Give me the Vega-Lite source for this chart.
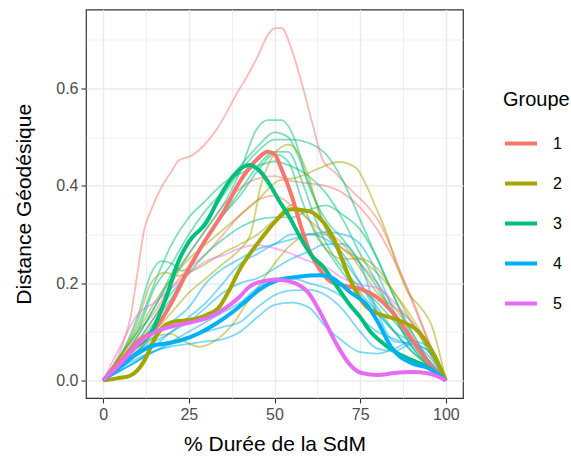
{
  "$schema": "https://vega.github.io/schema/vega-lite/v6.json",
  "autosize": "none",
  "width": 377,
  "height": 388.5,
  "padding": {"left": 86, "top": 9.5, "right": 108, "bottom": 62},
  "background": "white",
  "datasets": {
    "d": [
      {"s":"R1","g":"1","t":"i","x":0,"y":0},{"s":"R1","g":"1","t":"i","x":3,"y":0.03},{"s":"R1","g":"1","t":"i","x":6,"y":0.08},{"s":"R1","g":"1","t":"i","x":8,"y":0.13},{"s":"R1","g":"1","t":"i","x":10,"y":0.22},{"s":"R1","g":"1","t":"i","x":12,"y":0.31},{"s":"R1","g":"1","t":"i","x":14,"y":0.35},{"s":"R1","g":"1","t":"i","x":17,"y":0.397},{"s":"R1","g":"1","t":"i","x":20,"y":0.43},{"s":"R1","g":"1","t":"i","x":22,"y":0.452},{"s":"R1","g":"1","t":"i","x":26,"y":0.463},{"s":"R1","g":"1","t":"i","x":30,"y":0.488},{"s":"R1","g":"1","t":"i","x":33,"y":0.515},{"s":"R1","g":"1","t":"i","x":36,"y":0.55},{"s":"R1","g":"1","t":"i","x":39,"y":0.59},{"s":"R1","g":"1","t":"i","x":42,"y":0.625},{"s":"R1","g":"1","t":"i","x":45.5,"y":0.672},{"s":"R1","g":"1","t":"i","x":48,"y":0.71},{"s":"R1","g":"1","t":"i","x":50,"y":0.724},{"s":"R1","g":"1","t":"i","x":52,"y":0.725},{"s":"R1","g":"1","t":"i","x":55,"y":0.68},{"s":"R1","g":"1","t":"i","x":58,"y":0.61},{"s":"R1","g":"1","t":"i","x":61,"y":0.53},{"s":"R1","g":"1","t":"i","x":64,"y":0.455},{"s":"R1","g":"1","t":"i","x":68,"y":0.425},{"s":"R1","g":"1","t":"i","x":72.5,"y":0.39},{"s":"R1","g":"1","t":"i","x":77.5,"y":0.355},{"s":"R1","g":"1","t":"i","x":81,"y":0.32},{"s":"R1","g":"1","t":"i","x":84,"y":0.273},{"s":"R1","g":"1","t":"i","x":88,"y":0.2},{"s":"R1","g":"1","t":"i","x":92,"y":0.13},{"s":"R1","g":"1","t":"i","x":96,"y":0.06},{"s":"R1","g":"1","t":"i","x":100,"y":0},
      {"s":"R2","g":"1","t":"i","x":0,"y":0},{"s":"R2","g":"1","t":"i","x":5,"y":0.05},{"s":"R2","g":"1","t":"i","x":10,"y":0.1},{"s":"R2","g":"1","t":"i","x":15,"y":0.14},{"s":"R2","g":"1","t":"i","x":20,"y":0.2},{"s":"R2","g":"1","t":"i","x":25,"y":0.26},{"s":"R2","g":"1","t":"i","x":30,"y":0.31},{"s":"R2","g":"1","t":"i","x":35,"y":0.36},{"s":"R2","g":"1","t":"i","x":40,"y":0.395},{"s":"R2","g":"1","t":"i","x":45,"y":0.415},{"s":"R2","g":"1","t":"i","x":50,"y":0.42},{"s":"R2","g":"1","t":"i","x":55,"y":0.41},{"s":"R2","g":"1","t":"i","x":60,"y":0.405},{"s":"R2","g":"1","t":"i","x":65,"y":0.4},{"s":"R2","g":"1","t":"i","x":70,"y":0.385},{"s":"R2","g":"1","t":"i","x":75,"y":0.355},{"s":"R2","g":"1","t":"i","x":80,"y":0.31},{"s":"R2","g":"1","t":"i","x":85,"y":0.245},{"s":"R2","g":"1","t":"i","x":90,"y":0.17},{"s":"R2","g":"1","t":"i","x":95,"y":0.08},{"s":"R2","g":"1","t":"i","x":100,"y":0},
      {"s":"R3","g":"1","t":"i","x":0,"y":0},{"s":"R3","g":"1","t":"i","x":5,"y":0.04},{"s":"R3","g":"1","t":"i","x":10,"y":0.08},{"s":"R3","g":"1","t":"i","x":15,"y":0.13},{"s":"R3","g":"1","t":"i","x":20,"y":0.19},{"s":"R3","g":"1","t":"i","x":25,"y":0.23},{"s":"R3","g":"1","t":"i","x":30,"y":0.26},{"s":"R3","g":"1","t":"i","x":35,"y":0.3},{"s":"R3","g":"1","t":"i","x":40,"y":0.34},{"s":"R3","g":"1","t":"i","x":45,"y":0.37},{"s":"R3","g":"1","t":"i","x":50,"y":0.38},{"s":"R3","g":"1","t":"i","x":55,"y":0.36},{"s":"R3","g":"1","t":"i","x":60,"y":0.33},{"s":"R3","g":"1","t":"i","x":65,"y":0.3},{"s":"R3","g":"1","t":"i","x":70,"y":0.27},{"s":"R3","g":"1","t":"i","x":75,"y":0.24},{"s":"R3","g":"1","t":"i","x":80,"y":0.2},{"s":"R3","g":"1","t":"i","x":85,"y":0.15},{"s":"R3","g":"1","t":"i","x":90,"y":0.1},{"s":"R3","g":"1","t":"i","x":95,"y":0.04},{"s":"R3","g":"1","t":"i","x":100,"y":0},
      {"s":"G1","g":"3","t":"i","x":0,"y":0},{"s":"G1","g":"3","t":"i","x":5,"y":0.04},{"s":"G1","g":"3","t":"i","x":10,"y":0.09},{"s":"G1","g":"3","t":"i","x":15,"y":0.15},{"s":"G1","g":"3","t":"i","x":20,"y":0.21},{"s":"G1","g":"3","t":"i","x":25,"y":0.26},{"s":"G1","g":"3","t":"i","x":30,"y":0.31},{"s":"G1","g":"3","t":"i","x":35,"y":0.36},{"s":"G1","g":"3","t":"i","x":40,"y":0.43},{"s":"G1","g":"3","t":"i","x":44.6,"y":0.514},{"s":"G1","g":"3","t":"i","x":48,"y":0.535},{"s":"G1","g":"3","t":"i","x":52,"y":0.535},{"s":"G1","g":"3","t":"i","x":56,"y":0.494},{"s":"G1","g":"3","t":"i","x":59,"y":0.425},{"s":"G1","g":"3","t":"i","x":62,"y":0.37},{"s":"G1","g":"3","t":"i","x":65,"y":0.31},{"s":"G1","g":"3","t":"i","x":70,"y":0.25},{"s":"G1","g":"3","t":"i","x":75,"y":0.2},{"s":"G1","g":"3","t":"i","x":80,"y":0.15},{"s":"G1","g":"3","t":"i","x":85,"y":0.1},{"s":"G1","g":"3","t":"i","x":90,"y":0.06},{"s":"G1","g":"3","t":"i","x":95,"y":0.03},{"s":"G1","g":"3","t":"i","x":100,"y":0},
      {"s":"G2","g":"3","t":"i","x":0,"y":0},{"s":"G2","g":"3","t":"i","x":5,"y":0.05},{"s":"G2","g":"3","t":"i","x":10,"y":0.1},{"s":"G2","g":"3","t":"i","x":15,"y":0.19},{"s":"G2","g":"3","t":"i","x":20,"y":0.24},{"s":"G2","g":"3","t":"i","x":25,"y":0.3},{"s":"G2","g":"3","t":"i","x":30,"y":0.35},{"s":"G2","g":"3","t":"i","x":35,"y":0.39},{"s":"G2","g":"3","t":"i","x":40,"y":0.44},{"s":"G2","g":"3","t":"i","x":45,"y":0.48},{"s":"G2","g":"3","t":"i","x":50,"y":0.51},{"s":"G2","g":"3","t":"i","x":54,"y":0.5},{"s":"G2","g":"3","t":"i","x":57,"y":0.46},{"s":"G2","g":"3","t":"i","x":60,"y":0.4},{"s":"G2","g":"3","t":"i","x":65,"y":0.33},{"s":"G2","g":"3","t":"i","x":70,"y":0.29},{"s":"G2","g":"3","t":"i","x":75,"y":0.24},{"s":"G2","g":"3","t":"i","x":80,"y":0.19},{"s":"G2","g":"3","t":"i","x":85,"y":0.13},{"s":"G2","g":"3","t":"i","x":90,"y":0.07},{"s":"G2","g":"3","t":"i","x":95,"y":0.03},{"s":"G2","g":"3","t":"i","x":100,"y":0},
      {"s":"G3","g":"3","t":"i","x":0,"y":0},{"s":"G3","g":"3","t":"i","x":5,"y":0.05},{"s":"G3","g":"3","t":"i","x":10,"y":0.13},{"s":"G3","g":"3","t":"i","x":14,"y":0.22},{"s":"G3","g":"3","t":"i","x":17,"y":0.245},{"s":"G3","g":"3","t":"i","x":20,"y":0.24},{"s":"G3","g":"3","t":"i","x":23,"y":0.225},{"s":"G3","g":"3","t":"i","x":26,"y":0.24},{"s":"G3","g":"3","t":"i","x":30,"y":0.29},{"s":"G3","g":"3","t":"i","x":35,"y":0.34},{"s":"G3","g":"3","t":"i","x":40,"y":0.38},{"s":"G3","g":"3","t":"i","x":45,"y":0.43},{"s":"G3","g":"3","t":"i","x":50,"y":0.465},{"s":"G3","g":"3","t":"i","x":54,"y":0.45},{"s":"G3","g":"3","t":"i","x":58,"y":0.37},{"s":"G3","g":"3","t":"i","x":62,"y":0.3},{"s":"G3","g":"3","t":"i","x":66,"y":0.26},{"s":"G3","g":"3","t":"i","x":70,"y":0.22},{"s":"G3","g":"3","t":"i","x":75,"y":0.18},{"s":"G3","g":"3","t":"i","x":80,"y":0.14},{"s":"G3","g":"3","t":"i","x":85,"y":0.1},{"s":"G3","g":"3","t":"i","x":90,"y":0.06},{"s":"G3","g":"3","t":"i","x":95,"y":0.03},{"s":"G3","g":"3","t":"i","x":100,"y":0},
      {"s":"G4","g":"3","t":"i","x":0,"y":0},{"s":"G4","g":"3","t":"i","x":5,"y":0.05},{"s":"G4","g":"3","t":"i","x":10,"y":0.11},{"s":"G4","g":"3","t":"i","x":15,"y":0.2},{"s":"G4","g":"3","t":"i","x":20,"y":0.28},{"s":"G4","g":"3","t":"i","x":25,"y":0.335},{"s":"G4","g":"3","t":"i","x":30,"y":0.37},{"s":"G4","g":"3","t":"i","x":35,"y":0.405},{"s":"G4","g":"3","t":"i","x":40,"y":0.425},{"s":"G4","g":"3","t":"i","x":45,"y":0.44},{"s":"G4","g":"3","t":"i","x":50,"y":0.45},{"s":"G4","g":"3","t":"i","x":55,"y":0.44},{"s":"G4","g":"3","t":"i","x":60,"y":0.42},{"s":"G4","g":"3","t":"i","x":65,"y":0.385},{"s":"G4","g":"3","t":"i","x":70,"y":0.33},{"s":"G4","g":"3","t":"i","x":75,"y":0.26},{"s":"G4","g":"3","t":"i","x":80,"y":0.2},{"s":"G4","g":"3","t":"i","x":85,"y":0.13},{"s":"G4","g":"3","t":"i","x":90,"y":0.07},{"s":"G4","g":"3","t":"i","x":95,"y":0.03},{"s":"G4","g":"3","t":"i","x":100,"y":0},
      {"s":"G5","g":"3","t":"i","x":0,"y":0},{"s":"G5","g":"3","t":"i","x":5,"y":0.04},{"s":"G5","g":"3","t":"i","x":10,"y":0.09},{"s":"G5","g":"3","t":"i","x":15,"y":0.15},{"s":"G5","g":"3","t":"i","x":20,"y":0.22},{"s":"G5","g":"3","t":"i","x":25,"y":0.28},{"s":"G5","g":"3","t":"i","x":30,"y":0.33},{"s":"G5","g":"3","t":"i","x":35,"y":0.38},{"s":"G5","g":"3","t":"i","x":40,"y":0.43},{"s":"G5","g":"3","t":"i","x":45,"y":0.47},{"s":"G5","g":"3","t":"i","x":50,"y":0.495},{"s":"G5","g":"3","t":"i","x":55,"y":0.495},{"s":"G5","g":"3","t":"i","x":60,"y":0.488},{"s":"G5","g":"3","t":"i","x":65,"y":0.465},{"s":"G5","g":"3","t":"i","x":70,"y":0.41},{"s":"G5","g":"3","t":"i","x":75,"y":0.33},{"s":"G5","g":"3","t":"i","x":80,"y":0.25},{"s":"G5","g":"3","t":"i","x":85,"y":0.17},{"s":"G5","g":"3","t":"i","x":90,"y":0.1},{"s":"G5","g":"3","t":"i","x":95,"y":0.04},{"s":"G5","g":"3","t":"i","x":100,"y":0},
      {"s":"G6","g":"3","t":"i","x":0,"y":0},{"s":"G6","g":"3","t":"i","x":5,"y":0.04},{"s":"G6","g":"3","t":"i","x":10,"y":0.08},{"s":"G6","g":"3","t":"i","x":15,"y":0.13},{"s":"G6","g":"3","t":"i","x":20,"y":0.18},{"s":"G6","g":"3","t":"i","x":25,"y":0.22},{"s":"G6","g":"3","t":"i","x":30,"y":0.26},{"s":"G6","g":"3","t":"i","x":35,"y":0.29},{"s":"G6","g":"3","t":"i","x":40,"y":0.315},{"s":"G6","g":"3","t":"i","x":45,"y":0.33},{"s":"G6","g":"3","t":"i","x":50,"y":0.335},{"s":"G6","g":"3","t":"i","x":55,"y":0.335},{"s":"G6","g":"3","t":"i","x":60,"y":0.35},{"s":"G6","g":"3","t":"i","x":65,"y":0.36},{"s":"G6","g":"3","t":"i","x":70,"y":0.34},{"s":"G6","g":"3","t":"i","x":75,"y":0.31},{"s":"G6","g":"3","t":"i","x":80,"y":0.25},{"s":"G6","g":"3","t":"i","x":85,"y":0.17},{"s":"G6","g":"3","t":"i","x":90,"y":0.09},{"s":"G6","g":"3","t":"i","x":95,"y":0.04},{"s":"G6","g":"3","t":"i","x":100,"y":0},
      {"s":"G7","g":"3","t":"i","x":0,"y":0},{"s":"G7","g":"3","t":"i","x":5,"y":0.03},{"s":"G7","g":"3","t":"i","x":10,"y":0.07},{"s":"G7","g":"3","t":"i","x":15,"y":0.12},{"s":"G7","g":"3","t":"i","x":20,"y":0.17},{"s":"G7","g":"3","t":"i","x":25,"y":0.23},{"s":"G7","g":"3","t":"i","x":30,"y":0.29},{"s":"G7","g":"3","t":"i","x":35,"y":0.34},{"s":"G7","g":"3","t":"i","x":40,"y":0.39},{"s":"G7","g":"3","t":"i","x":45,"y":0.44},{"s":"G7","g":"3","t":"i","x":50,"y":0.47},{"s":"G7","g":"3","t":"i","x":54,"y":0.47},{"s":"G7","g":"3","t":"i","x":58,"y":0.41},{"s":"G7","g":"3","t":"i","x":62,"y":0.33},{"s":"G7","g":"3","t":"i","x":66,"y":0.27},{"s":"G7","g":"3","t":"i","x":70,"y":0.23},{"s":"G7","g":"3","t":"i","x":75,"y":0.19},{"s":"G7","g":"3","t":"i","x":80,"y":0.16},{"s":"G7","g":"3","t":"i","x":85,"y":0.12},{"s":"G7","g":"3","t":"i","x":90,"y":0.08},{"s":"G7","g":"3","t":"i","x":95,"y":0.04},{"s":"G7","g":"3","t":"i","x":100,"y":0},
      {"s":"O1","g":"2","t":"i","x":0,"y":0},{"s":"O1","g":"2","t":"i","x":5,"y":0.03},{"s":"O1","g":"2","t":"i","x":10,"y":0.06},{"s":"O1","g":"2","t":"i","x":15,"y":0.1},{"s":"O1","g":"2","t":"i","x":20,"y":0.14},{"s":"O1","g":"2","t":"i","x":25,"y":0.18},{"s":"O1","g":"2","t":"i","x":30,"y":0.21},{"s":"O1","g":"2","t":"i","x":35,"y":0.24},{"s":"O1","g":"2","t":"i","x":40,"y":0.27},{"s":"O1","g":"2","t":"i","x":43,"y":0.3},{"s":"O1","g":"2","t":"i","x":46,"y":0.4},{"s":"O1","g":"2","t":"i","x":49,"y":0.455},{"s":"O1","g":"2","t":"i","x":52,"y":0.48},{"s":"O1","g":"2","t":"i","x":54,"y":0.485},{"s":"O1","g":"2","t":"i","x":57,"y":0.467},{"s":"O1","g":"2","t":"i","x":60,"y":0.418},{"s":"O1","g":"2","t":"i","x":63,"y":0.344},{"s":"O1","g":"2","t":"i","x":66,"y":0.3},{"s":"O1","g":"2","t":"i","x":70,"y":0.27},{"s":"O1","g":"2","t":"i","x":75,"y":0.25},{"s":"O1","g":"2","t":"i","x":80,"y":0.22},{"s":"O1","g":"2","t":"i","x":85,"y":0.18},{"s":"O1","g":"2","t":"i","x":90,"y":0.13},{"s":"O1","g":"2","t":"i","x":95,"y":0.07},{"s":"O1","g":"2","t":"i","x":100,"y":0},
      {"s":"O2","g":"2","t":"i","x":0,"y":0},{"s":"O2","g":"2","t":"i","x":5,"y":0.05},{"s":"O2","g":"2","t":"i","x":10,"y":0.1},{"s":"O2","g":"2","t":"i","x":15,"y":0.16},{"s":"O2","g":"2","t":"i","x":20,"y":0.21},{"s":"O2","g":"2","t":"i","x":25,"y":0.25},{"s":"O2","g":"2","t":"i","x":30,"y":0.28},{"s":"O2","g":"2","t":"i","x":35,"y":0.31},{"s":"O2","g":"2","t":"i","x":40,"y":0.34},{"s":"O2","g":"2","t":"i","x":45,"y":0.37},{"s":"O2","g":"2","t":"i","x":51,"y":0.41},{"s":"O2","g":"2","t":"i","x":57,"y":0.418},{"s":"O2","g":"2","t":"i","x":63,"y":0.436},{"s":"O2","g":"2","t":"i","x":68.7,"y":0.449},{"s":"O2","g":"2","t":"i","x":73.6,"y":0.438},{"s":"O2","g":"2","t":"i","x":76.5,"y":0.405},{"s":"O2","g":"2","t":"i","x":79.5,"y":0.357},{"s":"O2","g":"2","t":"i","x":82.4,"y":0.308},{"s":"O2","g":"2","t":"i","x":86,"y":0.23},{"s":"O2","g":"2","t":"i","x":89,"y":0.18},{"s":"O2","g":"2","t":"i","x":92,"y":0.155},{"s":"O2","g":"2","t":"i","x":96,"y":0.11},{"s":"O2","g":"2","t":"i","x":100,"y":0},
      {"s":"O3","g":"2","t":"i","x":0,"y":0},{"s":"O3","g":"2","t":"i","x":5,"y":0.03},{"s":"O3","g":"2","t":"i","x":10,"y":0.06},{"s":"O3","g":"2","t":"i","x":15,"y":0.09},{"s":"O3","g":"2","t":"i","x":20,"y":0.095},{"s":"O3","g":"2","t":"i","x":23,"y":0.083},{"s":"O3","g":"2","t":"i","x":28,"y":0.069},{"s":"O3","g":"2","t":"i","x":33,"y":0.083},{"s":"O3","g":"2","t":"i","x":38,"y":0.117},{"s":"O3","g":"2","t":"i","x":42,"y":0.16},{"s":"O3","g":"2","t":"i","x":46,"y":0.2},{"s":"O3","g":"2","t":"i","x":50,"y":0.24},{"s":"O3","g":"2","t":"i","x":55,"y":0.28},{"s":"O3","g":"2","t":"i","x":60,"y":0.3},{"s":"O3","g":"2","t":"i","x":65,"y":0.3},{"s":"O3","g":"2","t":"i","x":70,"y":0.28},{"s":"O3","g":"2","t":"i","x":75,"y":0.23},{"s":"O3","g":"2","t":"i","x":80,"y":0.18},{"s":"O3","g":"2","t":"i","x":85,"y":0.15},{"s":"O3","g":"2","t":"i","x":90,"y":0.12},{"s":"O3","g":"2","t":"i","x":95,"y":0.06},{"s":"O3","g":"2","t":"i","x":100,"y":0},
      {"s":"O4","g":"2","t":"i","x":0,"y":0},{"s":"O4","g":"2","t":"i","x":5,"y":0.05},{"s":"O4","g":"2","t":"i","x":10,"y":0.12},{"s":"O4","g":"2","t":"i","x":14,"y":0.2},{"s":"O4","g":"2","t":"i","x":18,"y":0.222},{"s":"O4","g":"2","t":"i","x":22,"y":0.215},{"s":"O4","g":"2","t":"i","x":26,"y":0.225},{"s":"O4","g":"2","t":"i","x":30,"y":0.24},{"s":"O4","g":"2","t":"i","x":35,"y":0.262},{"s":"O4","g":"2","t":"i","x":40,"y":0.28},{"s":"O4","g":"2","t":"i","x":45,"y":0.3},{"s":"O4","g":"2","t":"i","x":50,"y":0.33},{"s":"O4","g":"2","t":"i","x":55,"y":0.36},{"s":"O4","g":"2","t":"i","x":60,"y":0.33},{"s":"O4","g":"2","t":"i","x":65,"y":0.27},{"s":"O4","g":"2","t":"i","x":70,"y":0.25},{"s":"O4","g":"2","t":"i","x":75,"y":0.25},{"s":"O4","g":"2","t":"i","x":80,"y":0.23},{"s":"O4","g":"2","t":"i","x":85,"y":0.18},{"s":"O4","g":"2","t":"i","x":90,"y":0.12},{"s":"O4","g":"2","t":"i","x":95,"y":0.06},{"s":"O4","g":"2","t":"i","x":100,"y":0},
      {"s":"B1","g":"4","t":"i","x":0,"y":0},{"s":"B1","g":"4","t":"i","x":5,"y":0.02},{"s":"B1","g":"4","t":"i","x":10,"y":0.04},{"s":"B1","g":"4","t":"i","x":15,"y":0.06},{"s":"B1","g":"4","t":"i","x":20,"y":0.07},{"s":"B1","g":"4","t":"i","x":25,"y":0.075},{"s":"B1","g":"4","t":"i","x":30,"y":0.08},{"s":"B1","g":"4","t":"i","x":35,"y":0.085},{"s":"B1","g":"4","t":"i","x":40,"y":0.1},{"s":"B1","g":"4","t":"i","x":45,"y":0.13},{"s":"B1","g":"4","t":"i","x":50,"y":0.155},{"s":"B1","g":"4","t":"i","x":55,"y":0.16},{"s":"B1","g":"4","t":"i","x":60,"y":0.15},{"s":"B1","g":"4","t":"i","x":65,"y":0.11},{"s":"B1","g":"4","t":"i","x":70,"y":0.08},{"s":"B1","g":"4","t":"i","x":75,"y":0.058},{"s":"B1","g":"4","t":"i","x":80,"y":0.055},{"s":"B1","g":"4","t":"i","x":85,"y":0.065},{"s":"B1","g":"4","t":"i","x":90,"y":0.08},{"s":"B1","g":"4","t":"i","x":95,"y":0.07},{"s":"B1","g":"4","t":"i","x":100,"y":0},
      {"s":"B2","g":"4","t":"i","x":0,"y":0},{"s":"B2","g":"4","t":"i","x":5,"y":0.025},{"s":"B2","g":"4","t":"i","x":10,"y":0.045},{"s":"B2","g":"4","t":"i","x":15,"y":0.06},{"s":"B2","g":"4","t":"i","x":20,"y":0.075},{"s":"B2","g":"4","t":"i","x":25,"y":0.09},{"s":"B2","g":"4","t":"i","x":30,"y":0.1},{"s":"B2","g":"4","t":"i","x":35,"y":0.11},{"s":"B2","g":"4","t":"i","x":40,"y":0.12},{"s":"B2","g":"4","t":"i","x":45,"y":0.15},{"s":"B2","g":"4","t":"i","x":50,"y":0.175},{"s":"B2","g":"4","t":"i","x":55,"y":0.185},{"s":"B2","g":"4","t":"i","x":60,"y":0.186},{"s":"B2","g":"4","t":"i","x":65,"y":0.175},{"s":"B2","g":"4","t":"i","x":70,"y":0.145},{"s":"B2","g":"4","t":"i","x":75,"y":0.1},{"s":"B2","g":"4","t":"i","x":80,"y":0.065},{"s":"B2","g":"4","t":"i","x":85,"y":0.06},{"s":"B2","g":"4","t":"i","x":90,"y":0.075},{"s":"B2","g":"4","t":"i","x":95,"y":0.06},{"s":"B2","g":"4","t":"i","x":100,"y":0},
      {"s":"B3","g":"4","t":"i","x":0,"y":0},{"s":"B3","g":"4","t":"i","x":5,"y":0.03},{"s":"B3","g":"4","t":"i","x":10,"y":0.06},{"s":"B3","g":"4","t":"i","x":15,"y":0.08},{"s":"B3","g":"4","t":"i","x":20,"y":0.1},{"s":"B3","g":"4","t":"i","x":25,"y":0.13},{"s":"B3","g":"4","t":"i","x":30,"y":0.16},{"s":"B3","g":"4","t":"i","x":35,"y":0.2},{"s":"B3","g":"4","t":"i","x":40,"y":0.24},{"s":"B3","g":"4","t":"i","x":45,"y":0.26},{"s":"B3","g":"4","t":"i","x":50,"y":0.28},{"s":"B3","g":"4","t":"i","x":55,"y":0.29},{"s":"B3","g":"4","t":"i","x":60,"y":0.3},{"s":"B3","g":"4","t":"i","x":65,"y":0.305},{"s":"B3","g":"4","t":"i","x":70,"y":0.3},{"s":"B3","g":"4","t":"i","x":75,"y":0.28},{"s":"B3","g":"4","t":"i","x":80,"y":0.22},{"s":"B3","g":"4","t":"i","x":85,"y":0.14},{"s":"B3","g":"4","t":"i","x":90,"y":0.08},{"s":"B3","g":"4","t":"i","x":95,"y":0.04},{"s":"B3","g":"4","t":"i","x":100,"y":0},
      {"s":"B4","g":"4","t":"i","x":0,"y":0},{"s":"B4","g":"4","t":"i","x":5,"y":0.02},{"s":"B4","g":"4","t":"i","x":10,"y":0.04},{"s":"B4","g":"4","t":"i","x":15,"y":0.07},{"s":"B4","g":"4","t":"i","x":20,"y":0.1},{"s":"B4","g":"4","t":"i","x":25,"y":0.12},{"s":"B4","g":"4","t":"i","x":30,"y":0.15},{"s":"B4","g":"4","t":"i","x":35,"y":0.18},{"s":"B4","g":"4","t":"i","x":40,"y":0.2},{"s":"B4","g":"4","t":"i","x":45,"y":0.21},{"s":"B4","g":"4","t":"i","x":50,"y":0.23},{"s":"B4","g":"4","t":"i","x":55,"y":0.25},{"s":"B4","g":"4","t":"i","x":60,"y":0.265},{"s":"B4","g":"4","t":"i","x":65,"y":0.28},{"s":"B4","g":"4","t":"i","x":70,"y":0.28},{"s":"B4","g":"4","t":"i","x":75,"y":0.24},{"s":"B4","g":"4","t":"i","x":80,"y":0.14},{"s":"B4","g":"4","t":"i","x":85,"y":0.08},{"s":"B4","g":"4","t":"i","x":90,"y":0.075},{"s":"B4","g":"4","t":"i","x":95,"y":0.06},{"s":"B4","g":"4","t":"i","x":100,"y":0},
      {"s":"B5","g":"4","t":"i","x":0,"y":0},{"s":"B5","g":"4","t":"i","x":5,"y":0.03},{"s":"B5","g":"4","t":"i","x":10,"y":0.06},{"s":"B5","g":"4","t":"i","x":15,"y":0.09},{"s":"B5","g":"4","t":"i","x":20,"y":0.12},{"s":"B5","g":"4","t":"i","x":25,"y":0.15},{"s":"B5","g":"4","t":"i","x":30,"y":0.2},{"s":"B5","g":"4","t":"i","x":35,"y":0.23},{"s":"B5","g":"4","t":"i","x":40,"y":0.25},{"s":"B5","g":"4","t":"i","x":45,"y":0.27},{"s":"B5","g":"4","t":"i","x":50,"y":0.28},{"s":"B5","g":"4","t":"i","x":55,"y":0.3},{"s":"B5","g":"4","t":"i","x":60,"y":0.3},{"s":"B5","g":"4","t":"i","x":65,"y":0.29},{"s":"B5","g":"4","t":"i","x":70,"y":0.26},{"s":"B5","g":"4","t":"i","x":75,"y":0.2},{"s":"B5","g":"4","t":"i","x":80,"y":0.14},{"s":"B5","g":"4","t":"i","x":85,"y":0.1},{"s":"B5","g":"4","t":"i","x":90,"y":0.08},{"s":"B5","g":"4","t":"i","x":95,"y":0.05},{"s":"B5","g":"4","t":"i","x":100,"y":0},
      {"s":"B6","g":"4","t":"i","x":0,"y":0},{"s":"B6","g":"4","t":"i","x":5,"y":0.02},{"s":"B6","g":"4","t":"i","x":10,"y":0.04},{"s":"B6","g":"4","t":"i","x":15,"y":0.06},{"s":"B6","g":"4","t":"i","x":20,"y":0.08},{"s":"B6","g":"4","t":"i","x":25,"y":0.1},{"s":"B6","g":"4","t":"i","x":30,"y":0.12},{"s":"B6","g":"4","t":"i","x":35,"y":0.14},{"s":"B6","g":"4","t":"i","x":40,"y":0.16},{"s":"B6","g":"4","t":"i","x":45,"y":0.19},{"s":"B6","g":"4","t":"i","x":50,"y":0.21},{"s":"B6","g":"4","t":"i","x":55,"y":0.21},{"s":"B6","g":"4","t":"i","x":60,"y":0.2},{"s":"B6","g":"4","t":"i","x":65,"y":0.19},{"s":"B6","g":"4","t":"i","x":70,"y":0.17},{"s":"B6","g":"4","t":"i","x":75,"y":0.13},{"s":"B6","g":"4","t":"i","x":80,"y":0.1},{"s":"B6","g":"4","t":"i","x":85,"y":0.085},{"s":"B6","g":"4","t":"i","x":90,"y":0.07},{"s":"B6","g":"4","t":"i","x":95,"y":0.04},{"s":"B6","g":"4","t":"i","x":100,"y":0},
      {"s":"P1","g":"5","t":"i","x":0,"y":0},{"s":"P1","g":"5","t":"i","x":5,"y":0.07},{"s":"P1","g":"5","t":"i","x":10,"y":0.135},{"s":"P1","g":"5","t":"i","x":15,"y":0.16},{"s":"P1","g":"5","t":"i","x":20,"y":0.19},{"s":"P1","g":"5","t":"i","x":25,"y":0.22},{"s":"P1","g":"5","t":"i","x":30,"y":0.245},{"s":"P1","g":"5","t":"i","x":35,"y":0.257},{"s":"P1","g":"5","t":"i","x":40,"y":0.272},{"s":"P1","g":"5","t":"i","x":45,"y":0.278},{"s":"P1","g":"5","t":"i","x":50,"y":0.272},{"s":"P1","g":"5","t":"i","x":55,"y":0.26},{"s":"P1","g":"5","t":"i","x":60,"y":0.245},{"s":"P1","g":"5","t":"i","x":65,"y":0.233},{"s":"P1","g":"5","t":"i","x":70,"y":0.21},{"s":"P1","g":"5","t":"i","x":75,"y":0.197},{"s":"P1","g":"5","t":"i","x":80,"y":0.19},{"s":"P1","g":"5","t":"i","x":85,"y":0.16},{"s":"P1","g":"5","t":"i","x":90,"y":0.12},{"s":"P1","g":"5","t":"i","x":95,"y":0.07},{"s":"P1","g":"5","t":"i","x":100,"y":0},
      {"s":"M1","g":"1","t":"m","x":0,"y":0},{"s":"M1","g":"1","t":"m","x":5,"y":0.04},{"s":"M1","g":"1","t":"m","x":10,"y":0.08},{"s":"M1","g":"1","t":"m","x":15,"y":0.105},{"s":"M1","g":"1","t":"m","x":20,"y":0.16},{"s":"M1","g":"1","t":"m","x":25,"y":0.23},{"s":"M1","g":"1","t":"m","x":30,"y":0.29},{"s":"M1","g":"1","t":"m","x":35,"y":0.345},{"s":"M1","g":"1","t":"m","x":40,"y":0.41},{"s":"M1","g":"1","t":"m","x":45,"y":0.455},{"s":"M1","g":"1","t":"m","x":48,"y":0.47},{"s":"M1","g":"1","t":"m","x":50,"y":0.465},{"s":"M1","g":"1","t":"m","x":52,"y":0.435},{"s":"M1","g":"1","t":"m","x":55,"y":0.38},{"s":"M1","g":"1","t":"m","x":58,"y":0.31},{"s":"M1","g":"1","t":"m","x":60,"y":0.27},{"s":"M1","g":"1","t":"m","x":63,"y":0.23},{"s":"M1","g":"1","t":"m","x":66,"y":0.205},{"s":"M1","g":"1","t":"m","x":70,"y":0.195},{"s":"M1","g":"1","t":"m","x":75,"y":0.188},{"s":"M1","g":"1","t":"m","x":80,"y":0.17},{"s":"M1","g":"1","t":"m","x":85,"y":0.135},{"s":"M1","g":"1","t":"m","x":90,"y":0.085},{"s":"M1","g":"1","t":"m","x":95,"y":0.035},{"s":"M1","g":"1","t":"m","x":100,"y":0},
      {"s":"M2","g":"2","t":"m","x":0,"y":0},{"s":"M2","g":"2","t":"m","x":4,"y":0.004},{"s":"M2","g":"2","t":"m","x":8,"y":0.01},{"s":"M2","g":"2","t":"m","x":12,"y":0.04},{"s":"M2","g":"2","t":"m","x":15,"y":0.085},{"s":"M2","g":"2","t":"m","x":18,"y":0.113},{"s":"M2","g":"2","t":"m","x":21,"y":0.121},{"s":"M2","g":"2","t":"m","x":25,"y":0.124},{"s":"M2","g":"2","t":"m","x":30,"y":0.134},{"s":"M2","g":"2","t":"m","x":34,"y":0.152},{"s":"M2","g":"2","t":"m","x":37,"y":0.188},{"s":"M2","g":"2","t":"m","x":40,"y":0.23},{"s":"M2","g":"2","t":"m","x":43,"y":0.262},{"s":"M2","g":"2","t":"m","x":46,"y":0.29},{"s":"M2","g":"2","t":"m","x":50,"y":0.325},{"s":"M2","g":"2","t":"m","x":55,"y":0.352},{"s":"M2","g":"2","t":"m","x":60,"y":0.348},{"s":"M2","g":"2","t":"m","x":63,"y":0.335},{"s":"M2","g":"2","t":"m","x":66,"y":0.308},{"s":"M2","g":"2","t":"m","x":68,"y":0.28},{"s":"M2","g":"2","t":"m","x":71,"y":0.225},{"s":"M2","g":"2","t":"m","x":74,"y":0.18},{"s":"M2","g":"2","t":"m","x":77,"y":0.15},{"s":"M2","g":"2","t":"m","x":80,"y":0.138},{"s":"M2","g":"2","t":"m","x":86,"y":0.124},{"s":"M2","g":"2","t":"m","x":92,"y":0.1},{"s":"M2","g":"2","t":"m","x":96,"y":0.06},{"s":"M2","g":"2","t":"m","x":100,"y":0},
      {"s":"M3","g":"3","t":"m","x":0,"y":0},{"s":"M3","g":"3","t":"m","x":4,"y":0.025},{"s":"M3","g":"3","t":"m","x":8.6,"y":0.062},{"s":"M3","g":"3","t":"m","x":14.4,"y":0.103},{"s":"M3","g":"3","t":"m","x":18.4,"y":0.171},{"s":"M3","g":"3","t":"m","x":22,"y":0.245},{"s":"M3","g":"3","t":"m","x":25,"y":0.285},{"s":"M3","g":"3","t":"m","x":30,"y":0.323},{"s":"M3","g":"3","t":"m","x":34,"y":0.377},{"s":"M3","g":"3","t":"m","x":37.7,"y":0.418},{"s":"M3","g":"3","t":"m","x":40.6,"y":0.438},{"s":"M3","g":"3","t":"m","x":42.6,"y":0.443},{"s":"M3","g":"3","t":"m","x":45.5,"y":0.432},{"s":"M3","g":"3","t":"m","x":48.4,"y":0.405},{"s":"M3","g":"3","t":"m","x":51.3,"y":0.37},{"s":"M3","g":"3","t":"m","x":54,"y":0.34},{"s":"M3","g":"3","t":"m","x":58,"y":0.288},{"s":"M3","g":"3","t":"m","x":61,"y":0.255},{"s":"M3","g":"3","t":"m","x":64,"y":0.235},{"s":"M3","g":"3","t":"m","x":68,"y":0.195},{"s":"M3","g":"3","t":"m","x":72,"y":0.155},{"s":"M3","g":"3","t":"m","x":75,"y":0.13},{"s":"M3","g":"3","t":"m","x":78,"y":0.1},{"s":"M3","g":"3","t":"m","x":80.5,"y":0.083},{"s":"M3","g":"3","t":"m","x":86,"y":0.055},{"s":"M3","g":"3","t":"m","x":90,"y":0.042},{"s":"M3","g":"3","t":"m","x":94,"y":0.03},{"s":"M3","g":"3","t":"m","x":100,"y":0},
      {"s":"M4","g":"4","t":"m","x":0,"y":0},{"s":"M4","g":"4","t":"m","x":5,"y":0.028},{"s":"M4","g":"4","t":"m","x":9,"y":0.05},{"s":"M4","g":"4","t":"m","x":13.5,"y":0.069},{"s":"M4","g":"4","t":"m","x":18.4,"y":0.076},{"s":"M4","g":"4","t":"m","x":23,"y":0.083},{"s":"M4","g":"4","t":"m","x":28,"y":0.097},{"s":"M4","g":"4","t":"m","x":33,"y":0.117},{"s":"M4","g":"4","t":"m","x":37.7,"y":0.14},{"s":"M4","g":"4","t":"m","x":42,"y":0.165},{"s":"M4","g":"4","t":"m","x":45.5,"y":0.186},{"s":"M4","g":"4","t":"m","x":51,"y":0.206},{"s":"M4","g":"4","t":"m","x":57,"y":0.213},{"s":"M4","g":"4","t":"m","x":63,"y":0.216},{"s":"M4","g":"4","t":"m","x":66,"y":0.213},{"s":"M4","g":"4","t":"m","x":69,"y":0.2},{"s":"M4","g":"4","t":"m","x":72.5,"y":0.179},{"s":"M4","g":"4","t":"m","x":76.5,"y":0.159},{"s":"M4","g":"4","t":"m","x":80.4,"y":0.117},{"s":"M4","g":"4","t":"m","x":84,"y":0.069},{"s":"M4","g":"4","t":"m","x":90,"y":0.035},{"s":"M4","g":"4","t":"m","x":95,"y":0.025},{"s":"M4","g":"4","t":"m","x":100,"y":0},
      {"s":"M5","g":"5","t":"m","x":0,"y":0},{"s":"M5","g":"5","t":"m","x":3,"y":0.02},{"s":"M5","g":"5","t":"m","x":6.8,"y":0.048},{"s":"M5","g":"5","t":"m","x":11.5,"y":0.083},{"s":"M5","g":"5","t":"m","x":16.4,"y":0.103},{"s":"M5","g":"5","t":"m","x":21.3,"y":0.113},{"s":"M5","g":"5","t":"m","x":26,"y":0.12},{"s":"M5","g":"5","t":"m","x":31,"y":0.13},{"s":"M5","g":"5","t":"m","x":36,"y":0.15},{"s":"M5","g":"5","t":"m","x":39.7,"y":0.171},{"s":"M5","g":"5","t":"m","x":42.6,"y":0.192},{"s":"M5","g":"5","t":"m","x":45.5,"y":0.202},{"s":"M5","g":"5","t":"m","x":51,"y":0.207},{"s":"M5","g":"5","t":"m","x":56,"y":0.2},{"s":"M5","g":"5","t":"m","x":60,"y":0.179},{"s":"M5","g":"5","t":"m","x":64,"y":0.131},{"s":"M5","g":"5","t":"m","x":68,"y":0.076},{"s":"M5","g":"5","t":"m","x":71.7,"y":0.035},{"s":"M5","g":"5","t":"m","x":75.4,"y":0.015},{"s":"M5","g":"5","t":"m","x":80,"y":0.011},{"s":"M5","g":"5","t":"m","x":85,"y":0.015},{"s":"M5","g":"5","t":"m","x":90,"y":0.017},{"s":"M5","g":"5","t":"m","x":95,"y":0.014},{"s":"M5","g":"5","t":"m","x":100,"y":0}
    ]
  },
  "data": {"name": "d"},
  "encoding": {
    "x": {"field": "x", "type": "quantitative", "title": "% Durée de la SdM",
      "scale": {"domain": [-5, 105], "nice": false, "zero": false},
      "axis": {"values": [0, 12.5, 25, 37.5, 50, 62.5, 75, 87.5, 100],
        "labelExpr": "datum.value % 25 === 0 ? datum.label : ''",
        "tickColor": {"condition": {"test": "datum.value % 25 !== 0", "value": "transparent"}, "value": "#333333"},
        "gridWidth": {"condition": {"test": "datum.value % 25 !== 0", "value": 0.8}, "value": 1.5},
        "titlePadding": 11}},
    "y": {"field": "y", "type": "quantitative", "title": "Distance Géodésique",
      "scale": {"domain": [-0.0363, 0.7626], "nice": false, "zero": false},
      "axis": {"values": [0, 0.1, 0.2, 0.3, 0.4, 0.5, 0.6, 0.7],
        "labelExpr": "round(datum.value * 10) % 2 === 0 ? format(datum.value, '.1f') : ''",
        "tickColor": {"condition": {"test": "round(datum.value * 10) % 2 !== 0", "value": "transparent"}, "value": "#333333"},
        "gridWidth": {"condition": {"test": "round(datum.value * 10) % 2 !== 0", "value": 0.8}, "value": 1.5},
        "titlePadding": 21}},
    "color": {"field": "g", "type": "nominal", "title": "Groupe",
      "scale": {"domain": ["1", "2", "3", "4", "5"], "range": ["#F8766D", "#A3A500", "#00BF7D", "#00B0F6", "#E76BF3"]}},
    "detail": {"field": "s"}
  },
  "layer": [
    {"transform": [{"filter": "datum.t === 'i'"}],
     "mark": {"type": "line", "interpolate": "monotone", "strokeWidth": 1.8, "opacity": 0.5}},
    {"transform": [{"filter": "datum.t === 'm'"}],
     "mark": {"type": "line", "interpolate": "monotone", "strokeWidth": 4, "opacity": 1}}
  ],
  "config": {
    "font": "Liberation Sans",
    "view": {"stroke": "#333333", "strokeWidth": 1.2},
    "axis": {
      "domain": false,
      "gridColor": "#EBEBEB",
      "tickSize": 5,
      "tickWidth": 1.1,
      "labelFontSize": 16,
      "labelColor": "#4D4D4D",
      "labelPadding": 3,
      "titleFontSize": 21,
      "titleFontWeight": "normal",
      "titleColor": "#000000"
    },
    "legend": {
      "orient": "none",
      "legendX": 417,
      "legendY": 80,
      "titleFontSize": 20,
      "titleFontWeight": "normal",
      "titleColor": "#000000",
      "titlePadding": 16,
      "labelFontSize": 16,
      "labelColor": "#000000",
      "labelOffset": 14,
      "symbolType": "stroke",
      "symbolSize": 1024,
      "symbolStrokeWidth": 4,
      "symbolOpacity": 1,
      "rowPadding": 14,
      "padding": 0
    }
  }
}
